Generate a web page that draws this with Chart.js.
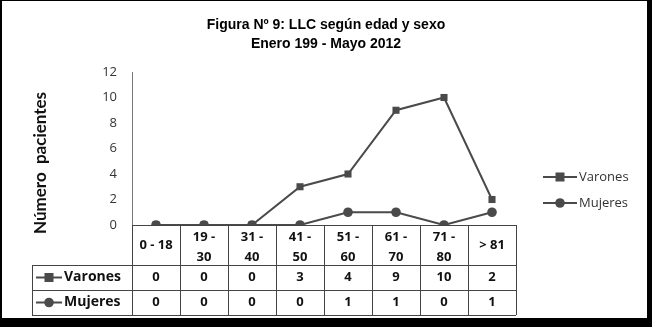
<!DOCTYPE html>
<html>
<head>
<meta charset="utf-8">
<script src="https://cdn.jsdelivr.net/npm/chart.js@4.4.0/dist/chart.umd.min.js"></script>
<style>
  html, body { margin: 0; padding: 0; background: #000; }
  #frame { position: absolute; left: 2px; top: 1px; width: 645px; height: 317px; background: #fff; }
  #box { position: absolute; left: 0; top: 0; width: 652px; height: 327px; }
</style>
</head>
<body>
<div id="frame"></div>
<div id="box"><canvas id="chart" width="652" height="327"></canvas></div>
<script>
// --------------- Data -----------------
const categories = [["0 - 18"], ["19 -", "30"], ["31 -", "40"], ["41 -", "50"], ["51 -", "60"], ["61 -", "70"], ["71 -", "80"], ["> 81"]];
const varones = [0, 0, 0, 3, 4, 9, 10, 2];
const mujeres = [0, 0, 0, 0, 1, 1, 0, 1];
const yTicks = [0, 2, 4, 6, 8, 10, 12];
const titleLines = ["Figura Nº 9: LLC según edad y sexo", "Enero 199 - Mayo 2012"];
const yTitle = "Número  pacientes";

const lineColor = "#4a4a4a";
const series = [
  { name: "Varones", data: varones, style: "rect" },
  { name: "Mujeres", data: mujeres, style: "circle" }
];

// marker helper for legend + table
const drawMarker = (ctx, style, x, y) => {
  ctx.fillStyle = lineColor;
  if (style === "rect") ctx.fillRect(x - 4.5, y - 4.5, 9, 9);
  else { ctx.beginPath(); ctx.arc(x, y, 4.8, 0, Math.PI * 2); ctx.fill(); }
};
const drawSymbol = (ctx, style, x0, x1, y) => {
  ctx.strokeStyle = lineColor;
  ctx.lineWidth = 2;
  ctx.beginPath(); ctx.moveTo(x0, y); ctx.lineTo(x1, y); ctx.stroke();
  drawMarker(ctx, style, (x0 + x1) / 2, y);
};

// --------------- Title, data table, legend, y title -----------------
const extrasPlugin = {
  id: "extras",
  afterDraw(chart) {
    const { ctx, chartArea: a, scales: { x } } = chart;
    const colW = (a.right - a.left) / categories.length;
    const top = a.bottom, r1 = top + 40, r2 = r1 + 25, bot = r2 + 25, left = 32;
    ctx.save();

    // title (centred on the whole picture)
    ctx.fillStyle = "#000";
    ctx.font = "bold 14px 'Liberation Sans'";
    ctx.textAlign = "center";
    ctx.textBaseline = "middle";
    titleLines.forEach((t, i) => ctx.fillText(t, 326, 25 + i * 19));

    // grid of the table
    ctx.strokeStyle = "#444";
    ctx.lineWidth = 1;
    ctx.beginPath();
    ctx.moveTo(a.left, top + 0.5); ctx.lineTo(a.right, top + 0.5);
    [r1, r2, bot].forEach(y => { ctx.moveTo(left, y + 0.5); ctx.lineTo(a.right, y + 0.5); });
    for (let i = 0; i <= categories.length; i++) {
      const xx = Math.round(a.left + i * colW) + 0.5;
      ctx.moveTo(xx, top); ctx.lineTo(xx, bot);
    }
    ctx.moveTo(left + 0.5, r1); ctx.lineTo(left + 0.5, bot);
    ctx.stroke();

    // header labels
    ctx.fillStyle = "#111";
    ctx.font = "bold 13px 'Open Sans'";
    categories.forEach((c, i) => {
      const cx = x.getPixelForValue(i);
      if (c.length === 1) ctx.fillText(c[0], cx, top + 20);
      else { ctx.fillText(c[0], cx, top + 12); ctx.fillText(c[1], cx, top + 32); }
    });

    // value rows
    series.forEach((s, k) => {
      const cy = (k === 0 ? r1 : r2) + 12.5;
      ctx.fillStyle = "#111";
      ctx.font = "bold 13px 'Open Sans'";
      ctx.textAlign = "center";
      s.data.forEach((v, i) => ctx.fillText(String(v), x.getPixelForValue(i), cy));
      drawSymbol(ctx, s.style, left + 4, left + 30, cy);
      ctx.fillStyle = "#111";
      ctx.font = "bold 14px 'Open Sans'";
      ctx.textAlign = "left";
      ctx.fillText(s.name, left + 32, cy);
    });

    // legend on the right
    series.forEach((s, k) => {
      const cy = 177 + k * 26;
      drawSymbol(ctx, s.style, 543, 577, cy);
      ctx.fillStyle = "#333";
      ctx.font = "13px 'Open Sans'";
      ctx.textAlign = "left";
      ctx.fillText(s.name, 579, cy);
    });

    // y axis title
    ctx.translate(41, 163);
    ctx.rotate(-Math.PI / 2);
    ctx.fillStyle = "#111";
    ctx.font = "bold 17px 'Lato'";
    ctx.textAlign = "center";
    ctx.fillText(yTitle, 0, 0);
    ctx.restore();
  }
};

// --------------- Chart -----------------
const ctx = document.getElementById("chart").getContext("2d");
new Chart(ctx, {
  type: "line",
  data: {
    labels: categories,
    datasets: series.map(s => ({
      label: s.name,
      data: s.data,
      borderColor: lineColor,
      backgroundColor: lineColor,
      borderWidth: 2,
      pointStyle: s.style,
      pointRadius: s.style === "rect" ? 5 : 4.8,
      pointBackgroundColor: lineColor,
      pointBorderWidth: 0,
      tension: 0
    }))
  },
  options: {
    responsive: false,
    animation: false,
    layout: { padding: { left: 0, right: 136, top: 72, bottom: 102 } },
    plugins: {
      legend: { display: false },
      tooltip: { enabled: false },
      title: { display: false }
    },
    scales: {
      x: { display: false, offset: true },
      y: {
        min: 0,
        max: 12,
        afterBuildTicks: scale => { scale.ticks = yTicks.map(v => ({ value: v })); },
        afterFit: scale => { scale.width = 132; },
        grid: { display: false, drawTicks: false },
        border: { display: true, color: "#777", width: 1 },
        ticks: { color: "#333", padding: 15, font: { family: "'Open Sans'", size: 13 } }
      }
    }
  },
  plugins: [extrasPlugin]
});
</script>
</body>
</html>
